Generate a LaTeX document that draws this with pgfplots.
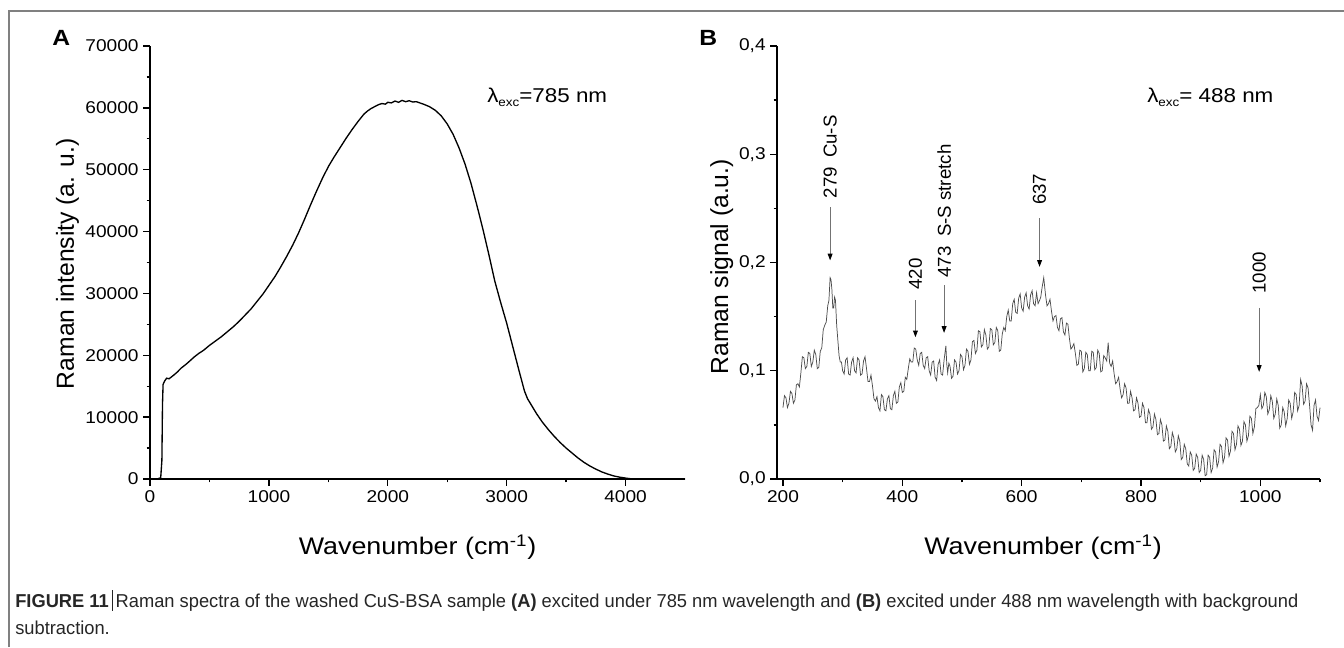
\documentclass[border=0pt]{standalone}
\usepackage{fontspec}
\setmainfont{Liberation Sans}
\newfontfamily\figfont[FakeStretch=1.12]{Liberation Sans}
\newfontfamily\capfont[FakeStretch=0.98]{Liberation Sans}
\usepackage{pgfplots}
\pgfplotsset{compat=1.18}
\usetikzlibrary{arrows.meta}

\newcommand{\lsub}[1]{\raisebox{-0.45ex}{\fontsize{9}{9}\selectfont #1}}

\pgfplotsset{
  myaxis/.style={
    scale only axis,
    axis x line*=bottom, axis y line*=left,
    axis line style={line width=1.1pt, black},
    tick align=outside,
    major tick length=5pt, minor tick length=2.6pt,
    every tick/.style={line width=1pt, black},
    tick label style={font=\figfont\fontsize{12.8}{13}\selectfont},
    /pgf/number format/assume math mode=true,
    /pgf/number format/1000 sep={},
    scaled ticks=false,
    every axis x label/.style={at={(axis description cs:0.5,-0.157)}, anchor=center, font=\figfont\fontsize{18}{20}\selectfont},
    clip=false,
  }
}

\begin{document}
\begin{tikzpicture}
\useasboundingbox (0,0) rectangle (1008pt,-485.25pt);
\fill[white] (0,0) rectangle (1008pt,-485.25pt);
% frame
\draw[gray, line width=0.8pt] (6.75pt,-485.25pt) -- (6.75pt,-8.25pt) -- (1008pt,-8.25pt);

% ---------------- Panel A ----------------
\begin{axis}[myaxis,
  at={(112.5pt,-359.25pt)}, anchor=south west,
  width=401.25pt, height=324.75pt,
  xmin=0, xmax=4500, ymin=0, ymax=70000,
  xtick={0,1000,2000,3000,4000},
  minor xtick={500,1500,2500,3500},
  ytick={0,10000,20000,30000,40000,50000,60000,70000},
  minor ytick={5000,15000,25000,35000,45000,55000,65000},
  xlabel={Wavenumber (cm\textsuperscript{-1})},
  ylabel={Raman intensity (a. u.)},
  every axis y label/.style={at={(axis description cs:-0.154,0.497)}, rotate=90, anchor=center, font=\fontsize{18.5}{20}\selectfont},
]
\addplot[black, line width=1pt] coordinates {
(0,0) (60,0) (90,200) (100,3000) (105,12000) (110,15300) (125,15900) (140,16300)
(160,16200) (180,16500) (200,16800) (230,17300) (260,17900) (300,18500) (330,19000)
(370,19700) (410,20300) (450,20800) (500,21600) (550,22300) (600,23000) (650,23800)
(700,24600) (750,25500) (800,26500) (850,27500) (900,28700) (950,29900) (1000,31300)
(1050,32700) (1100,34300) (1150,36000) (1200,37800) (1250,39800) (1300,42000)
(1350,44300) (1400,46500) (1450,48600) (1500,50500) (1550,52100) (1600,53600)
(1650,55100) (1700,56500) (1750,57800) (1800,59000) (1830,59500) (1860,59900)
(1890,60200) (1920,60500) (1950,60700) (1980,60600) (2000,60900) (2030,60800)
(2060,61100) (2090,60900) (2120,61200) (2150,61000) (2180,61150) (2210,60950)
(2240,61000) (2270,60800) (2300,60600) (2350,60200) (2400,59600) (2450,58700)
(2500,57400) (2550,55700) (2600,53500) (2650,50900) (2700,47800) (2750,44200)
(2800,40400) (2850,36300) (2900,32000) (2950,28500) (3000,25200) (3050,21500)
(3100,17800) (3150,14200) (3175,13000) (3200,12200) (3250,10600) (3300,9200)
(3350,8000) (3400,6900) (3450,5900) (3500,5000) (3550,4200) (3600,3400) (3650,2700)
(3700,2100) (3750,1600) (3800,1150) (3850,800) (3900,500) (3950,300) (4000,150)
(4040,50) (4080,0) (4500,0)
};
\end{axis}

% ---------------- Panel B ----------------
\begin{axis}[myaxis,
  at={(582.75pt,-359.25pt)}, anchor=south west,
  width=407.25pt, height=324.75pt,
  xmin=190, xmax=1100, ymin=0, ymax=0.4,
  xtick={200,400,600,800,1000},
  minor xtick={300,500,700,900,1100},
  ytick={0,0.1,0.2,0.3,0.4},
  minor ytick={0.05,0.15,0.25,0.35},
  yticklabel style={/pgf/number format/.cd, fixed, fixed zerofill, precision=1, use comma},
  xlabel={Wavenumber (cm\textsuperscript{-1})},
  ylabel={Raman signal (a.u.)},
  every axis x label/.style={at={(axis description cs:0.49,-0.157)}, anchor=center, font=\figfont\fontsize{18}{20}\selectfont},
  every axis y label/.style={at={(axis description cs:-0.102,0.49)}, rotate=90, anchor=center, font=\fontsize{18.5}{20}\selectfont},
]
\addplot[black!70, line width=0.55pt] coordinates {
(200,0.066) (202.5,0.077) (205,0.075) (207.5,0.066) (210,0.070) (212.5,0.081)
(215,0.079) (217.5,0.070) (220,0.073) (222.5,0.087) (225,0.088) (227.5,0.085)
(230,0.098) (232.5,0.113) (235,0.112) (237.5,0.102) (240,0.104) (242.5,0.117)
(245,0.116) (247.5,0.104) (250,0.108) (252.5,0.119) (255,0.115) (257.5,0.102)
(260,0.103) (262.5,0.118) (265,0.121) (267.5,0.138) (270,0.142) (272.5,0.145)
(275,0.160) (277,0.165) (279,0.186) (280.5,0.184) (282,0.175) (283.5,0.158)
(285,0.158) (286.5,0.168) (288,0.165) (290,0.142) (292,0.128) (294,0.114)
(296,0.108) (298,0.108) (300,0.100) (302.5,0.097) (305,0.110) (307.5,0.112)
(310,0.097) (312.5,0.096) (315,0.108) (317.5,0.112) (320,0.100) (322.5,0.098)
(325,0.112) (327.5,0.110) (330,0.096) (332.5,0.097) (335,0.109) (337.5,0.113)
(340,0.102) (342.5,0.090) (345,0.090) (347.5,0.096) (350,0.086) (352.5,0.074)
(355,0.072) (357.5,0.076) (360,0.066) (362.5,0.063) (365,0.078) (367.5,0.076)
(370,0.064) (372.5,0.063) (375,0.074) (377.5,0.077) (380,0.065) (382.5,0.064)
(385,0.077) (387.5,0.081) (390,0.070) (392.5,0.071) (395,0.085) (397.5,0.089)
(400,0.080) (402.5,0.081) (405,0.094) (407.5,0.092) (410,0.102) (412.5,0.111)
(415,0.108) (417.5,0.108) (420,0.121) (422.5,0.120) (425,0.110) (427.5,0.105)
(430,0.116) (432.5,0.117) (435,0.105) (437.5,0.102) (440,0.112) (442.5,0.113)
(445,0.100) (447.5,0.096) (450,0.108) (452.5,0.109) (455,0.094) (457.5,0.091)
(460,0.106) (462.5,0.110) (465,0.097) (467.5,0.096) (470,0.110) (473,0.123)
(474.5,0.106) (476,0.098) (478,0.107) (480,0.104) (482.5,0.093) (485,0.095)
(487.5,0.110) (490,0.108) (492.5,0.097) (495,0.100) (497.5,0.115) (500,0.113)
(502.5,0.101) (505,0.105) (507.5,0.120) (510,0.118) (512.5,0.106) (515,0.110)
(517.5,0.127) (520,0.128) (522.5,0.116) (525,0.119) (527.5,0.137) (530,0.136)
(532.5,0.122) (535,0.124) (537.5,0.138) (540,0.133) (542.5,0.120) (545,0.122)
(547.5,0.139) (550,0.138) (552.5,0.124) (555,0.126) (557.5,0.140) (560,0.137)
(562.5,0.118) (565,0.119) (567.5,0.134) (570,0.140) (572.5,0.137) (575,0.150)
(577.5,0.156) (580,0.146) (582.5,0.146) (585,0.162) (587.5,0.166) (590,0.154)
(592.5,0.153) (595,0.167) (597.5,0.171) (600,0.158) (602.5,0.155) (605,0.168)
(607.5,0.172) (610,0.160) (612.5,0.157) (615,0.170) (617.5,0.174) (620,0.162)
(622.5,0.160) (625,0.172) (627.5,0.162) (630,0.165) (632,0.168) (634,0.176)
(637,0.186) (638.5,0.178) (640,0.170) (642.5,0.160) (645,0.162) (647.5,0.166)
(650,0.155) (652.5,0.146) (655,0.150) (657.5,0.151) (660,0.140) (662.5,0.137)
(665,0.148) (667.5,0.149) (670,0.136) (672.5,0.133) (675,0.144) (677.5,0.143)
(680,0.130) (682.5,0.120) (685,0.122) (687.5,0.125) (690,0.116) (692.5,0.105)
(695,0.106) (697.5,0.119) (700,0.118) (702.5,0.099) (705,0.102) (707.5,0.117)
(710,0.115) (712.5,0.100) (715,0.100) (717.5,0.118) (720,0.117) (722.5,0.101)
(725,0.103) (727.5,0.119) (730,0.116) (732.5,0.099) (735,0.100) (737.5,0.114)
(740,0.112) (742.5,0.109) (745,0.126) (747.5,0.107) (750,0.104) (752.5,0.109)
(755,0.097) (757.5,0.088) (760,0.090) (762.5,0.094) (765,0.083) (767.5,0.075)
(770,0.078) (772.5,0.088) (775,0.084) (777.5,0.070) (780,0.070) (782.5,0.081)
(785,0.075) (787.5,0.063) (790,0.064) (792.5,0.075) (795,0.070) (797.5,0.057)
(800,0.058) (802.5,0.070) (805,0.066) (807.5,0.052) (810,0.052) (812.5,0.064)
(815,0.060) (817.5,0.046) (820,0.048) (822.5,0.060) (825,0.055) (827.5,0.041)
(830,0.042) (832.5,0.055) (835,0.050) (837.5,0.035) (840,0.036) (842.5,0.049)
(845,0.044) (847.5,0.028) (850,0.030) (852.5,0.043) (855,0.038) (857.5,0.025)
(860,0.028) (862.5,0.040) (865,0.035) (867.5,0.018) (870,0.020) (872.5,0.032)
(875,0.028) (877.5,0.014) (880,0.012) (882.5,0.025) (885,0.022) (887.5,0.008)
(890,0.010) (892.5,0.023) (895,0.020) (897.5,0.006) (900,0.008) (902.5,0.022)
(905,0.018) (907.5,0.003) (910,0.004) (912.5,0.022) (915,0.020) (917.5,0.006)
(920,0.010) (922.5,0.027) (925,0.025) (927.5,0.011) (930,0.016) (932.5,0.032)
(935,0.030) (937.5,0.015) (940,0.020) (942.5,0.038) (945,0.036) (947.5,0.021)
(950,0.026) (952.5,0.044) (955,0.042) (957.5,0.027) (960,0.032) (962.5,0.049)
(965,0.046) (967.5,0.031) (970,0.035) (972.5,0.053) (975,0.050) (977.5,0.035)
(980,0.040) (982.5,0.058) (985,0.056) (987.5,0.042) (990,0.048) (992.5,0.065)
(995,0.066) (997.5,0.068) (1000,0.078) (1002.5,0.065) (1005,0.068) (1007.5,0.080)
(1010,0.076) (1012.5,0.060) (1015,0.064) (1017.5,0.077) (1020,0.072) (1022.5,0.056)
(1025,0.060) (1027.5,0.074) (1030,0.068) (1032.5,0.047) (1035,0.050) (1037.5,0.066)
(1040,0.062) (1042.5,0.049) (1045,0.056) (1047.5,0.073) (1050,0.070) (1052.5,0.056)
(1055,0.062) (1057.5,0.080) (1060,0.078) (1062.5,0.063) (1065,0.068) (1067.5,0.092)
(1070,0.086) (1072.5,0.069) (1075,0.072) (1077.5,0.088) (1080,0.084) (1082.5,0.068)
(1085,0.050) (1087.5,0.045) (1090,0.068) (1092.5,0.073) (1095,0.058) (1097.5,0.054)
(1100,0.066)
};
% annotations
\tikzset{ann/.style={rotate=90, anchor=west, inner sep=0pt, font=\fontsize{14}{15}\selectfont},
         arr/.style={black!55, line width=0.7pt, -{Triangle[color=black, length=5pt, width=3.6pt]}}}
\node[ann] at (axis cs:279,0.259) {279\hspace{0.5em}Cu-S};
\draw[arr] (axis cs:279,0.251) -- (axis cs:279,0.202);
\node[ann] at (axis cs:422,0.1746) {420};
\draw[arr] (axis cs:422,0.165) -- (axis cs:422,0.131);
\node[ann] at (axis cs:470,0.186) {473\hspace{0.5em}S-S stretch};
\draw[arr] (axis cs:470,0.179) -- (axis cs:470,0.135);
\node[ann] at (axis cs:630,0.253) {637};
\draw[arr] (axis cs:630,0.241) -- (axis cs:630,0.196);
\node[ann] at (axis cs:998,0.171) {1000};
\draw[arr] (axis cs:998,0.158) -- (axis cs:998,0.099);
\end{axis}

% panel letters and excitation labels
\node[anchor=base west, inner sep=0pt, font=\figfont\bfseries\fontsize{16.5}{18}\selectfont] at (39pt,-33.75pt) {A};
\node[anchor=base west, inner sep=0pt, font=\figfont\bfseries\fontsize{16.5}{18}\selectfont] at (524.25pt,-33.75pt) {B};
\node[anchor=base west, inner sep=0pt, font=\figfont\fontsize{15}{16}\selectfont] at (365.25pt,-76.5pt) {λ\lsub{exc}=785 nm};
\node[anchor=base west, inner sep=0pt, font=\figfont\fontsize{15}{16}\selectfont] at (860.25pt,-76.5pt) {λ\lsub{exc}= 488 nm};

% caption
\node[anchor=base west, inner sep=0pt, font=\capfont\fontsize{14}{16}\selectfont, text=black!85] at (11.25pt,-455.25pt)
  {\textbf{FIGURE 11}\,\rule[-0.2em]{0.5pt}{1.1em}\,Raman spectra of the washed CuS-BSA sample \textbf{(A)} excited under 785 nm wavelength and \textbf{(B)} excited under 488 nm wavelength with background};
\node[anchor=base west, inner sep=0pt, font=\capfont\fontsize{14}{16}\selectfont, text=black!85] at (11.25pt,-475.5pt)
  {subtraction.};
\end{tikzpicture}
\end{document}
